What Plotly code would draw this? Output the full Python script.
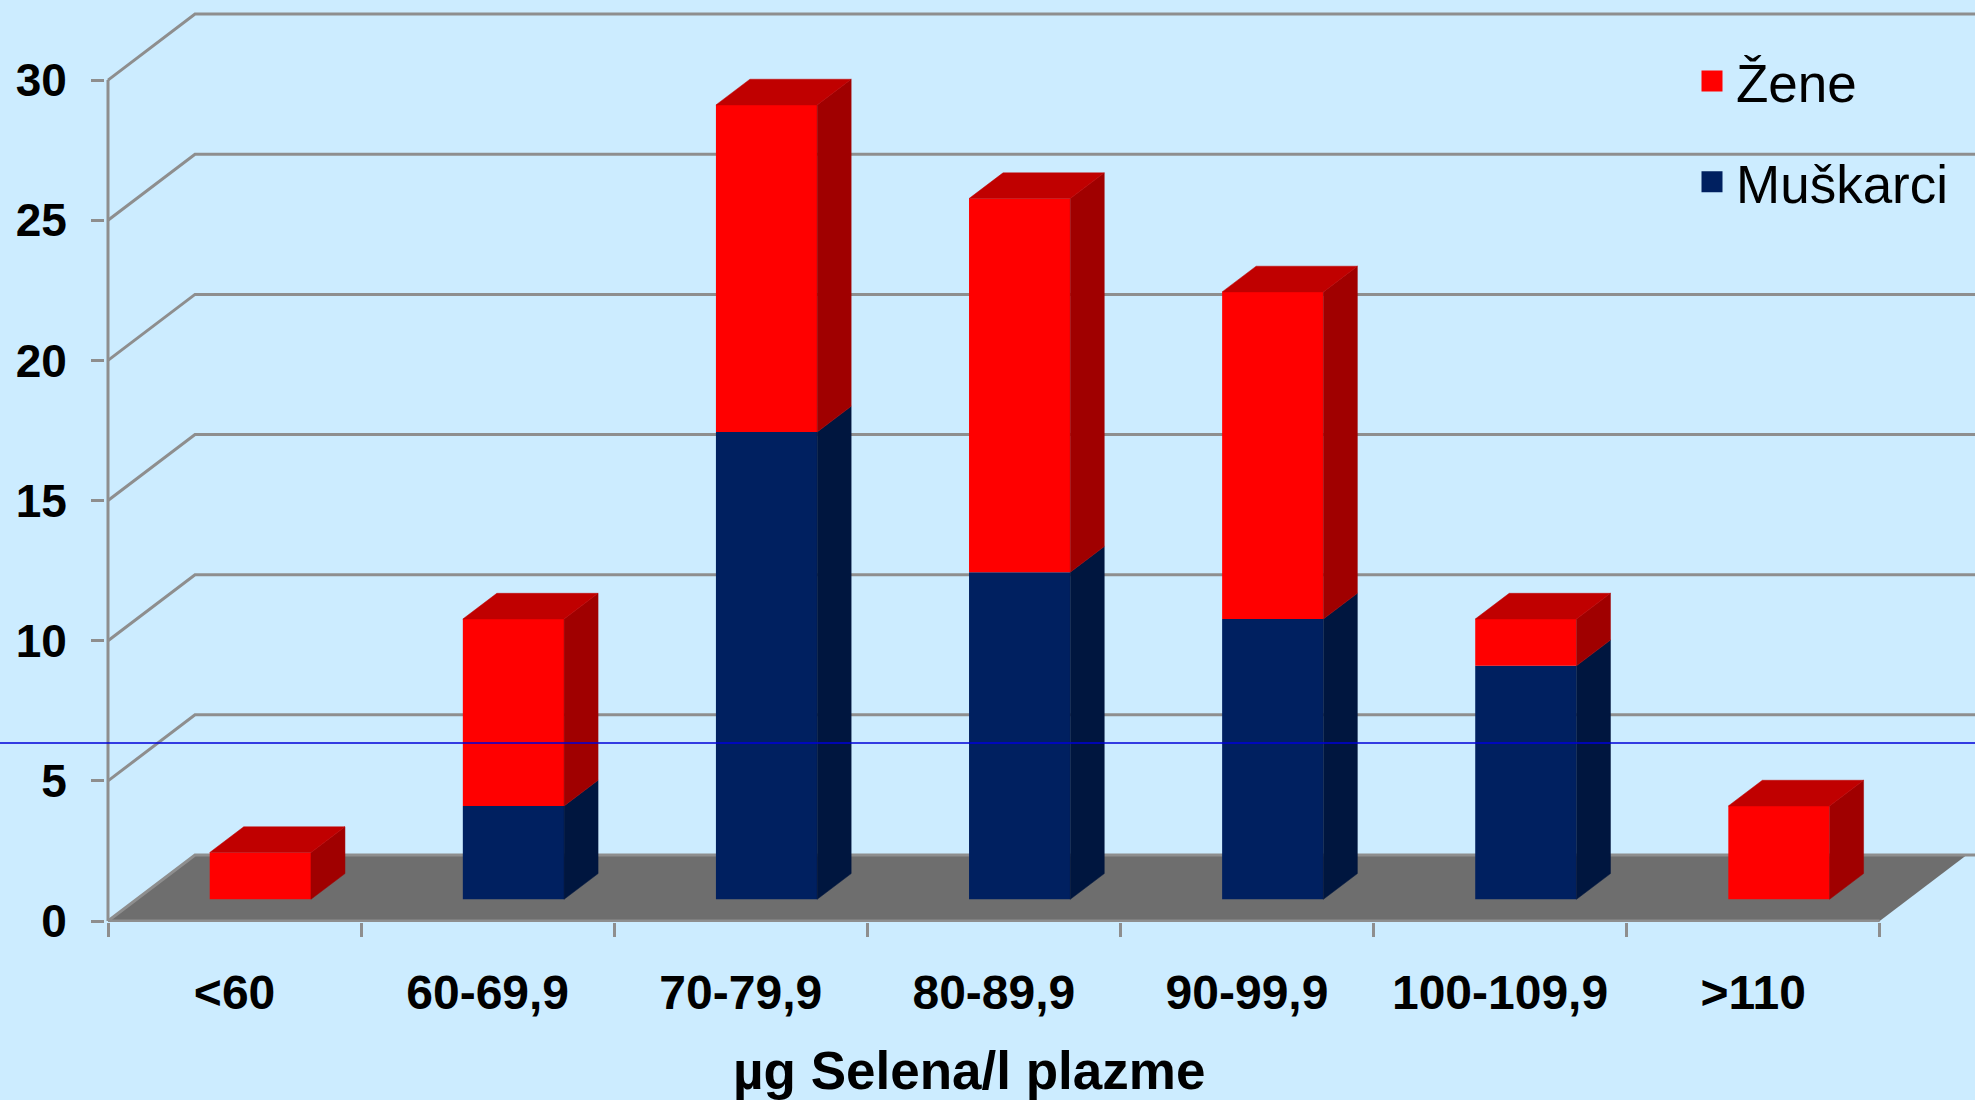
import plotly.graph_objects as go

# ---- data: share of subjects (%) per plasma selenium class ----
categories = ["<60", "60-69,9", "70-79,9", "80-89,9", "90-99,9", "100-109,9", ">110"]
muskarci = [0, 3.33, 16.67, 11.67, 10.0, 8.33, 0]
zene = [1.67, 6.67, 11.67, 13.33, 11.67, 1.67, 3.33]
y_ticks = [0, 5, 10, 15, 20, 25, 30]
x_title = "µg Selena/l plazme"

# ---- styling ----
BG = "#CCECFF"
GRID = "#8E8E8E"
FLOOR = "#6E6E6E"
RED_FRONT, RED_TOP, RED_SIDE = "#FF0000", "#C00000", "#A00000"
BLUE_FRONT, BLUE_TOP, BLUE_SIDE = "#002060", "#001A50", "#00163F"
FONT = "Liberation Sans, Arial, sans-serif"

W, H = 1975, 1100
ML, MR, MT, MB = 105, 0, 10, 178
PLOT_W, PLOT_H = W - ML - MR, H - MT - MB
PX_PER_CAT, PX_PER_UNIT = 253.1, 28.03

X_LO = -0.5 - 3 / PX_PER_CAT
X_HI = X_LO + PLOT_W / PX_PER_CAT
Y_LO = -1 / PX_PER_UNIT
Y_HI = Y_LO + PLOT_H / PX_PER_UNIT

# oblique depth of the chart box (back wall offset) in axis units
WALL_DX, WALL_DY = 87 / PX_PER_CAT, 66 / PX_PER_UNIT
# bar placement inside the box
BAR_W = 0.4
BAR_X = 25.8 / PX_PER_CAT
BAR_Z0 = 21.7 / PX_PER_UNIT
BAR_DDX, BAR_DDY = 34 / PX_PER_CAT, 25.7 / PX_PER_UNIT

n = len(categories)
xs = [i + BAR_X for i in range(n)]
base_m = [BAR_Z0] * n
base_z = [BAR_Z0 + m for m in muskarci]

fig = go.Figure()

# front faces
fig.add_trace(go.Bar(x=xs, y=muskarci, base=base_m, width=BAR_W, name="Muškarci",
                     marker=dict(color=BLUE_FRONT, line=dict(width=0)),
                     showlegend=False, hoverinfo="skip"))
fig.add_trace(go.Bar(x=xs, y=zene, base=base_z, width=BAR_W, name="Žene",
                     marker=dict(color=RED_FRONT, line=dict(width=0)),
                     showlegend=False, hoverinfo="skip"))


def faces(values, bases, is_top):
    """Side and top face outlines for one stacked series."""
    side_x, side_y, top_x, top_y = [], [], [], []
    for x, v, b, top in zip(xs, values, bases, is_top):
        if v <= 0:
            continue
        xr, xl = x + BAR_W / 2, x - BAR_W / 2
        b1 = b + v
        side_x += [xr, xr + BAR_DDX, xr + BAR_DDX, xr, xr, None]
        side_y += [b, b + BAR_DDY, b1 + BAR_DDY, b1, b, None]
        if top:
            top_x += [xl, xr, xr + BAR_DDX, xl + BAR_DDX, xl, None]
            top_y += [b1, b1, b1 + BAR_DDY, b1 + BAR_DDY, b1, None]
    return side_x, side_y, top_x, top_y


for vals, bases, tops, side_c, top_c in [
    (muskarci, base_m, [z <= 0 for z in zene], BLUE_SIDE, BLUE_TOP),
    (zene, base_z, [True] * n, RED_SIDE, RED_TOP),
]:
    sx, sy, tx, ty = faces(vals, bases, tops)
    for fx, fy, c in [(sx, sy, side_c), (tx, ty, top_c)]:
        if fx:
            fig.add_trace(go.Scatter(x=fx, y=fy, mode="lines", fill="toself",
                                     fillcolor=c, line=dict(width=0.5, color=c),
                                     showlegend=False, hoverinfo="skip"))

# legend entries
for name, color, rank in [("Žene", RED_FRONT, 1), ("Muškarci", BLUE_FRONT, 2)]:
    fig.add_trace(go.Scatter(x=[None], y=[None], mode="markers", name=name,
                             legendgroup=name, legendrank=rank,
                             marker=dict(symbol="square", size=16, color=color,
                                         line=dict(width=5, color=color))))

shapes = []
# floor of the box
x0, x1 = -0.5, n - 0.5
shapes.append(dict(type="path", xref="x", yref="y", layer="below",
                   path=f"M{x0},0 L{x1},0 L{x1 + WALL_DX},{WALL_DY} L{x0 + WALL_DX},{WALL_DY} Z",
                   fillcolor=FLOOR, line=dict(width=0)))
# gridlines on the side and back walls
for t in y_ticks:
    shapes.append(dict(type="path", xref="x", yref="y", layer="below",
                       path=f"M{x0},{t} L{x0 + WALL_DX},{t + WALL_DY} L{X_HI + 1},{t + WALL_DY}",
                       line=dict(color=GRID, width=3)))
# front axis lines
shapes.append(dict(type="line", xref="x", yref="y", layer="above",
                   x0=x0, x1=x0, y0=0, y1=y_ticks[-1], line=dict(color=GRID, width=3)))
shapes.append(dict(type="line", xref="x", yref="y", layer="above",
                   x0=x0, x1=x1, y0=0, y1=0, line=dict(color=GRID, width=3)))
# thin blue rule across the slide
rule_y = (H - MB - 743) / PLOT_H
shapes.append(dict(type="line", xref="paper", yref="paper", layer="above",
                   x0=-ML / PLOT_W, x1=1, y0=rule_y, y1=rule_y,
                   line=dict(color="#0000D8", width=1.5)))

fig.update_layout(
    width=W, height=H,
    margin=dict(l=ML, r=MR, t=MT, b=MB, pad=0, autoexpand=False),
    paper_bgcolor=BG, plot_bgcolor=BG,
    barmode="overlay",
    font=dict(family=FONT, color="black"),
    shapes=shapes,
    showlegend=True,
    legend=dict(x=(1688 - ML) / PLOT_W, y=(H - MB - 40) / PLOT_H,
                xanchor="left", yanchor="top",
                font=dict(family=FONT, size=53, color="black"),
                bgcolor="rgba(0,0,0,0)", tracegroupgap=29, itemwidth=38,
                traceorder="grouped"),
    annotations=[dict(text=x_title, xref="paper", yref="paper",
                      x=(969 - ML) / PLOT_W, y=(H - MB - 1070) / PLOT_H,
                      xanchor="center", yanchor="middle", showarrow=False,
                      font=dict(family=FONT, size=53, weight="bold", color="black"))],
)

fig.update_xaxes(range=[X_LO, X_HI], tickmode="array", tickvals=list(range(n)),
                 ticktext=categories, ticks="", showgrid=False, zeroline=False,
                 showline=False, ticklabelstandoff=38,
                 tickfont=dict(family=FONT, size=48, weight="bold", color="black"),
                 minor=dict(tickmode="array", tickvals=[i - 0.5 for i in range(n + 1)],
                            ticks="outside", ticklen=14, tickwidth=3, tickcolor=GRID,
                            showgrid=False))
fig.update_yaxes(range=[Y_LO, Y_HI], tickmode="array", tickvals=y_ticks,
                 ticks="outside", ticklen=13, tickwidth=3, tickcolor=GRID,
                 showgrid=False, zeroline=False, showline=False, ticklabelstandoff=15,
                 tickfont=dict(family=FONT, size=46, weight="bold", color="black"))

fig.write_html("out.html")
